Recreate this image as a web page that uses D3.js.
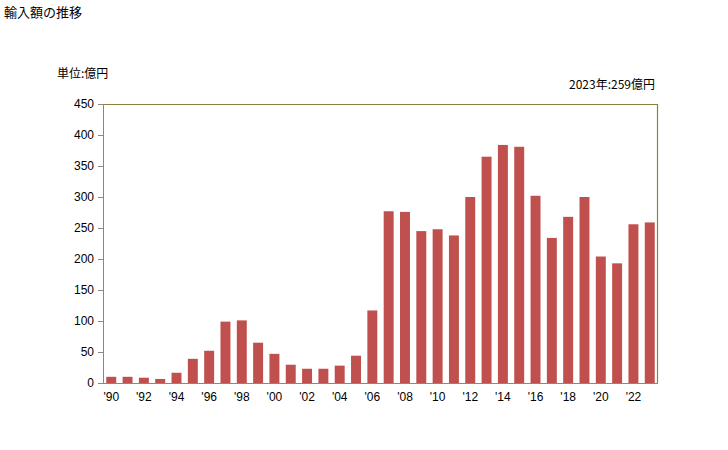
<!DOCTYPE html>
<html><head><meta charset="utf-8">
<script src="https://cdn.jsdelivr.net/npm/d3@7"></script>
<style>body{margin:0;background:#fff;font-family:"Noto Sans CJK JP","Noto Sans",sans-serif;}</style>
</head><body>
<svg id="c" width="728" height="450"></svg>
<script>
const years = ["1990","1991","1992","1993","1994","1995","1996","1997","1998","1999","2000","2001","2002","2003","2004","2005","2006","2007","2008","2009","2010","2011","2012","2013","2014","2015","2016","2017","2018","2019","2020","2021","2022","2023"];
const values = [10,10,8.5,6.5,16.5,39,52,99,101,65,47,29.5,23,23,28,44,117,277,276,245,248,238,300,365,384,381,302,234,268,300,204,193,256,259];
const yTicks = [0,50,100,150,200,250,300,350,400,450];
const title = "輸入額の推移";
const unitLabel = "単位:億円";
const latestLabel = "2023年:259億円";

const svg = d3.select("#c");
const m = {l:103, r:658, t:104, b:383};
const x = d3.scaleBand().domain(years).range([m.l, m.r]).paddingInner(0.39).paddingOuter(0.2);
const y = d3.scaleLinear().domain([0,450]).range([m.b, m.t]);

svg.append("text").attr("x",4).attr("y",17).attr("font-size",13).attr("fill","#000").text(title);
svg.append("text").attr("x",57).attr("y",78).attr("font-size",12).attr("fill","#000").text(unitLabel);
svg.append("text").attr("x",655).attr("y",89).attr("font-size",12).attr("text-anchor","end").attr("fill","#000").text(latestLabel);

// frame top/right
svg.append("path").attr("d",`M${m.l},${m.t+0.5}H${m.r-0.5}V${m.b}`).attr("fill","none").attr("stroke","#8c8040").attr("stroke-width",1.2);

svg.selectAll("rect.bar").data(values).join("rect").attr("class","bar")
  .attr("x",(d,i)=>x(years[i])).attr("width",x.bandwidth())
  .attr("y",d=>y(d)).attr("height",d=>y(0)-y(d)).attr("fill","#c0504d");

const ya = svg.append("g").attr("transform",`translate(${m.l},0)`)
  .call(d3.axisLeft(y).tickValues(yTicks).tickSize(5).tickPadding(4));
ya.select(".domain").attr("stroke","#888");
ya.selectAll(".tick line").attr("stroke","#888");
ya.selectAll("text").attr("font-size",12).attr("fill","#000").attr("font-family","Liberation Sans, Arial, sans-serif");

const xa = svg.append("g").attr("transform",`translate(0,${m.b})`)
  .call(d3.axisBottom(x).tickValues(years.filter((d,i)=>i%2===0)).tickSize(0).tickPadding(9).tickFormat(d=>"'"+d.slice(2)));
xa.select(".domain").attr("stroke","#888").attr("d",`M${m.l},0.5H${m.r}`);
xa.selectAll("text").attr("font-size",12).attr("fill","#000").attr("font-family","Liberation Sans, Arial, sans-serif");
</script>
</body></html>
